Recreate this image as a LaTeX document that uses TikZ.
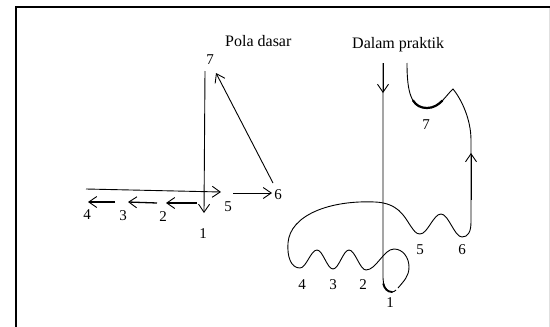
\documentclass[tikz,border=0pt]{standalone}
\usepackage{fontspec}
\setmainfont{Liberation Serif}
\usetikzlibrary{arrows.meta}
\begin{document}
\begin{tikzpicture}[x=1pt,y=-1pt,
  line/.style={line width=0.9pt, black},
  thickline/.style={line width=1.3pt, black},
  inkline/.style={line width=2.2pt, black, line cap=round},
  barb/.style={-{Straight Barb[length=8pt,width=11pt,line width=0.9pt]}},
  num/.style={font=\fontsize{15}{17}\selectfont, inner sep=0pt},
  title/.style={font=\fontsize{16}{18}\selectfont, inner sep=0pt, anchor=base west}]
\useasboundingbox (0,0) rectangle (550,327);
\fill[white] (0,0) rectangle (550,327);
% frame
\draw[line width=2pt] (16,327) -- (16,7) -- (550,7);
\draw[black!12, line width=0.6pt] (549,8) -- (549,327);
% titles
\node[title] (t1) at (225,46) {Pola dasar};
\node[title] (t2) at (352,48) {Dalam praktik};
% ---------- left figure ----------
\node[num] (L7) at (210,60) {7};
\node[num] (L5) at (228,207) {5};
\node[num] (L6) at (278,195) {6};
\node[num] (L4) at (87,215) {4};
\node[num] (L3) at (123,216) {3};
\node[num] (L2) at (163,217) {2};
\node[num] (L1) at (203,234) {1};
\coordinate (v7) at (205,71); \coordinate (v1) at (204,213);
\draw[line,barb] (v7) -- (v1);
\coordinate (d6) at (273,183); \coordinate (d7) at (216,73);
\draw[line,barb] (d6) -- (d7);
\coordinate (hA) at (86,189); \coordinate (hB) at (221,192);
\draw[line,barb] (hA) -- (hB);
\coordinate (sA) at (233,193); \coordinate (sB) at (272,193);
\draw[line,barb] (sA) -- (sB);
\coordinate (a1s) at (197,203); \coordinate (a1e) at (166,203);
\coordinate (a2s) at (157,203); \coordinate (a2e) at (128,202);
\coordinate (a3s) at (115,202); \coordinate (a3e) at (88,202);
\draw[thickline,barb] (a1s) -- (a1e);
\draw[thickline,barb] (a2s) -- (a2e);
\draw[thickline,barb] (a3s) -- (a3e);
% ---------- right figure ----------
\node[num] (R7) at (426,125) {7};
\node[num] (R5) at (420,250) {5};
\node[num] (R6) at (462,250) {6};
\node[num] (R4) at (302,285) {4};
\node[num] (R3) at (333,285) {3};
\node[num] (R2) at (363,285) {2};
\node[num] (R1) at (390,303) {1};
\coordinate (pS) at (383,63);
\coordinate (pA) at (383,93);
\draw[line] (pS) -- (383,278) to[out=-90,in=180] (392,292) to[out=0,in=-140] (396,290);
\draw[line,barb] (pS) -- (pA);
\coordinate (qS) at (398,288);
\coordinate (qE) at (407,63);
\draw[line] (qS) to[out=50,in=-90] (409,267) to[out=90,in=0] (394,249)
  cos (380,259.5) sin (366,270) cos (357.5,260) sin (349,250)
  cos (341,259.5) sin (333,269) cos (325,259.5) sin (317,250)
  cos (308.5,259) sin (300,268)
  .. controls (291,268) and (287,257) .. (288,243)
  .. controls (290,215) and (330,200) .. (375,202)
  .. controls (398,203) and (404,216) .. (410,225)
  .. controls (414,231) and (416,234) .. (420,234)
  cos (430.5,224) sin (441,214) cos (451.5,225.5) sin (462,237)
  .. controls (468,237) and (471,232) .. (471,222)
  -- (471,140)
  .. controls (471,120) and (462,100) .. (453,89)
  .. controls (446,95) and (440,108) .. (427,108)
  .. controls (411,108) and (407,92) .. (qE);
\coordinate (uS) at (471,200); \coordinate (uE) at (471,153);
\draw[line,barb] (uS) -- (uE);
% ink-heavy bowls (exact sub-curves of the path)
\draw[inkline] (442.25,100.75) .. controls (438.25,104.75) and (433.5,108) .. (427,108)
  .. controls (420.6,108) and (416.12,105.44) .. (413.05,100.51);
\draw[line width=1.8pt, line cap=round] (383.3,284) to[out=-75,in=180] (392,292);
\end{tikzpicture}
\end{document}
